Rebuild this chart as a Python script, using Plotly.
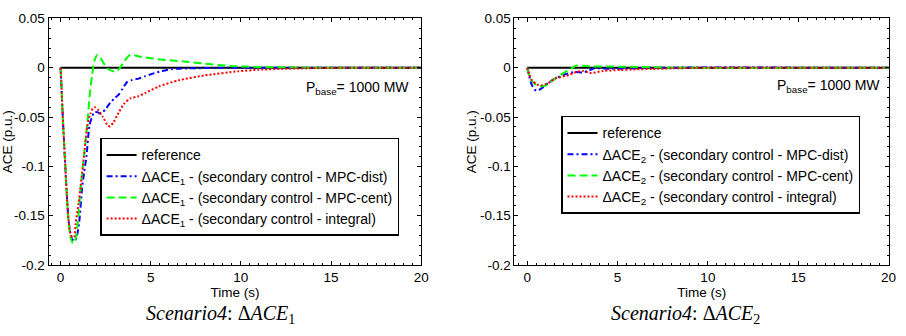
import plotly.graph_objects as go

# ---------------- data ----------------
x_ticks = [0, 5, 10, 15, 20]
y_ticks = [0.05, 0, -0.05, -0.1, -0.15, -0.2]
y_ticktext = ["0.05", "0", "-0.05", "-0.1", "-0.15", "-0.2"]

ref_t = [0, 20]
ref_v = [0, 0]

# Scenario 4: ACE1
a1_dist_t = [0, 0.03, 0.07, 0.15, 0.24, 0.33, 0.44, 0.55, 0.65, 0.8, 0.92, 1.03, 1.2, 1.32, 1.44, 1.61, 1.75, 1.87, 2.05, 2.23, 2.5, 2.78, 3.0, 3.24, 3.45, 3.7, 3.95, 4.34, 4.7, 5.07, 5.6, 6.17, 7.0, 8.0, 9.0, 10.0, 12.0, 20.0]
a1_dist_v = [0, -0.008, -0.026, -0.058, -0.090, -0.122, -0.153, -0.168, -0.174, -0.176, -0.170, -0.158, -0.122, -0.105, -0.090, -0.058, -0.050, -0.045, -0.045, -0.0466, -0.042, -0.035, -0.031, -0.027, -0.021, -0.0143, -0.0125, -0.011, -0.0085, -0.0062, -0.0035, -0.0014, -0.0007, -0.0003, 0, 0, 0, 0]

a1_cent_t = [0, 0.03, 0.07, 0.15, 0.24, 0.33, 0.44, 0.55, 0.66, 0.75, 0.85, 0.97, 1.12, 1.3, 1.48, 1.63, 1.75, 1.88, 2.05, 2.22, 2.45, 2.7, 3.06, 3.3, 3.55, 3.88, 4.15, 4.5, 4.89, 5.5, 6.17, 7.0, 8.0, 9.5, 11.0, 12.5, 14.0, 20.0]
a1_cent_v = [0, -0.008, -0.026, -0.058, -0.090, -0.122, -0.155, -0.171, -0.177, -0.178, -0.173, -0.155, -0.122, -0.090, -0.058, -0.026, -0.008, 0.007, 0.013, 0.010, 0.003, -0.002, -0.004, 0.0, 0.007, 0.0135, 0.0125, 0.011, 0.010, 0.0085, 0.0074, 0.006, 0.0042, 0.0018, 0.0008, 0.0003, 0.0001, 0]

a1_int_t = [0, 0.03, 0.07, 0.15, 0.24, 0.33, 0.44, 0.55, 0.65, 0.77, 0.84, 1.0, 1.12, 1.3, 1.48, 1.65, 1.8, 1.9, 2.1, 2.35, 2.6, 2.75, 2.95, 3.24, 3.55, 3.88, 4.3, 4.7, 5.44, 6.54, 8.0, 9.84, 11.0, 12.5, 14.0, 16.0, 20.0]
a1_int_v = [0, -0.008, -0.026, -0.058, -0.090, -0.122, -0.153, -0.168, -0.172, -0.171, -0.158, -0.138, -0.120, -0.090, -0.060, -0.047, -0.041, -0.040, -0.043, -0.050, -0.058, -0.0595, -0.055, -0.045, -0.036, -0.031, -0.029, -0.0256, -0.019, -0.0127, -0.0078, -0.0036, -0.002, -0.001, -0.0004, 0, 0]

# Scenario 4: ACE2
a2_dist_t = [0, 0.1, 0.26, 0.4, 0.53, 0.7, 0.9, 1.2, 1.45, 2.0, 2.64, 3.06, 3.4, 3.7, 4.5, 5.5, 7.0, 20.0]
a2_dist_v = [0, -0.008, -0.0177, -0.022, -0.0235, -0.022, -0.0194, -0.015, -0.0119, -0.0074, -0.0042, -0.0048, -0.003, -0.0005, -0.001, -0.0008, 0, 0]

a2_cent_t = [0, 0.16, 0.4, 0.6, 0.8, 1.0, 1.25, 1.54, 2.0, 2.4, 2.73, 3.1, 3.6, 4.5, 5.5, 7.0, 8.0, 20.0]
a2_cent_v = [0, -0.011, -0.016, -0.0185, -0.0188, -0.018, -0.015, -0.011, -0.0054, -0.001, 0.0023, 0.002, 0.0012, 0.0012, 0.001, 0.0005, 0, 0]

a2_int_t = [0, 0.1, 0.26, 0.53, 0.8, 1.0, 1.25, 1.54, 2.18, 2.73, 3.1, 3.35, 3.55, 4.2, 5.1, 6.0, 6.9, 8.0, 10.0, 20.0]
a2_int_v = [0, -0.006, -0.0128, -0.017, -0.0178, -0.017, -0.0145, -0.011, -0.008, -0.0042, -0.0032, -0.0045, -0.0054, -0.0032, -0.0023, -0.0016, -0.0012, -0.0006, 0, 0]

names1 = ["reference",
          "ΔACE<sub>1</sub> - (secondary control - MPC-dist)",
          "ΔACE<sub>1</sub> - (secondary control - MPC-cent)",
          "ΔACE<sub>1</sub> - (secondary control - integral)"]
names2 = ["reference",
          "ΔACE<sub>2</sub> - (secondary control - MPC-dist)",
          "ΔACE<sub>2</sub> - (secondary control - MPC-cent)",
          "ΔACE<sub>2</sub> - (secondary control - integral)"]

# ---------------- figure ----------------
W, H = 906, 336
SANS = "Arial, Liberation Sans, Helvetica, sans-serif"
SERIF = "Times New Roman, Liberation Serif, serif"

styles = [dict(color="#000000", width=2.2, dash="solid"),
          dict(color="#0000FF", width=2, dash="6px,3px,2px,3px"),
          dict(color="#00FF00", width=2, dash="8px,4px"),
          dict(color="#FF0000", width=2, dash="2px,2px")]

fig = go.Figure()
sets = [
    ("x", "y", "legend", names1, [(ref_t, ref_v), (a1_dist_t, a1_dist_v), (a1_cent_t, a1_cent_v), (a1_int_t, a1_int_v)]),
    ("x2", "y2", "legend2", names2, [(ref_t, ref_v), (a2_dist_t, a2_dist_v), (a2_cent_t, a2_cent_v), (a2_int_t, a2_int_v)]),
]
for xa, ya, lg, names, series in sets:
    for (t, v), nm, st in zip(series, names, styles):
        fig.add_trace(go.Scatter(x=t, y=v, mode="lines", name=nm, line=dict(st, shape="spline", smoothing=0.6),
                                 xaxis=xa, yaxis=ya, legend=lg, showlegend=True))

ydom = [1 - 270 / H, 1 - 12 / H]

def xaxis(dom, rng, anchor):
    return dict(domain=dom, range=rng, anchor=anchor, tickmode="array", tickvals=x_ticks,
                ticktext=[str(v) for v in x_ticks], ticks="inside", ticklen=4, tickcolor="black",
                showline=True, linecolor="black", linewidth=1, mirror="allticks", showgrid=False,
                zeroline=False, tickfont=dict(family=SANS, size=13.5, color="black"),
                minor=dict(dtick=0.5, ticks="inside", ticklen=2, tickcolor="black", showgrid=False),
                title=dict(text="Time (s)", font=dict(family=SANS, size=13.5, color="black"), standoff=0))

def yaxis(rng, anchor):
    return dict(domain=ydom, range=rng, anchor=anchor, tickmode="array", tickvals=y_ticks,
                ticktext=y_ticktext, ticks="inside", ticklen=4, tickcolor="black",
                showline=True, linecolor="black", linewidth=1, mirror="allticks", showgrid=False,
                zeroline=False, tickfont=dict(family=SANS, size=13.5, color="black"),
                minor=dict(dtick=0.01, ticks="inside", ticklen=2, tickcolor="black", showgrid=False),
                title=dict(text="ACE (p.u.)", font=dict(family=SANS, size=13.5, color="black"), standoff=0))

legend_common = dict(bgcolor="white", bordercolor="black", borderwidth=1.5,
                     font=dict(family=SANS, size=14, color="black"), xanchor="left", yanchor="top",
                     tracegroupgap=0, itemclick=False)

fig.update_layout(
    width=W, height=H, margin=dict(l=0, r=0, t=0, b=0),
    paper_bgcolor="white", plot_bgcolor="white",
    xaxis=xaxis([49 / W, 425 / W], [-0.66, 20], "y"),
    yaxis=yaxis([-0.2, 0.05], "x"),
    xaxis2=xaxis([519 / W, 897 / W], [-0.71, 20.03], "y2"),
    yaxis2=yaxis([-0.2, 0.05], "x2"),
    legend=dict(legend_common, x=101 / W, y=1 - 137 / H),
    legend2=dict(legend_common, x=566 / W, y=1 - 114 / H),
    showlegend=True,
    annotations=[
        dict(text="P<sub>base</sub>= 1000 MW", x=415 / W, y=1 - 85 / H, xref="paper", yref="paper",
             xanchor="right", yanchor="middle", showarrow=False, font=dict(family=SANS, size=14, color="black")),
        dict(text="P<sub>base</sub>= 1000 MW", x=890 / W, y=1 - 83 / H, xref="paper", yref="paper",
             xanchor="right", yanchor="middle", showarrow=False, font=dict(family=SANS, size=14, color="black")),
        dict(text="<i>Scenario4</i>: Δ<i>ACE</i><sub>1</sub>", x=222 / W, y=1 - 322 / H, xref="paper", yref="paper",
             xanchor="center", yanchor="middle", showarrow=False, font=dict(family=SERIF, size=20, color="black")),
        dict(text="<i>Scenario4</i>: Δ<i>ACE</i><sub>2</sub>", x=692 / W, y=1 - 322 / H, xref="paper", yref="paper",
             xanchor="center", yanchor="middle", showarrow=False, font=dict(family=SERIF, size=20, color="black")),
    ],
)

fig.write_html("out.html")
